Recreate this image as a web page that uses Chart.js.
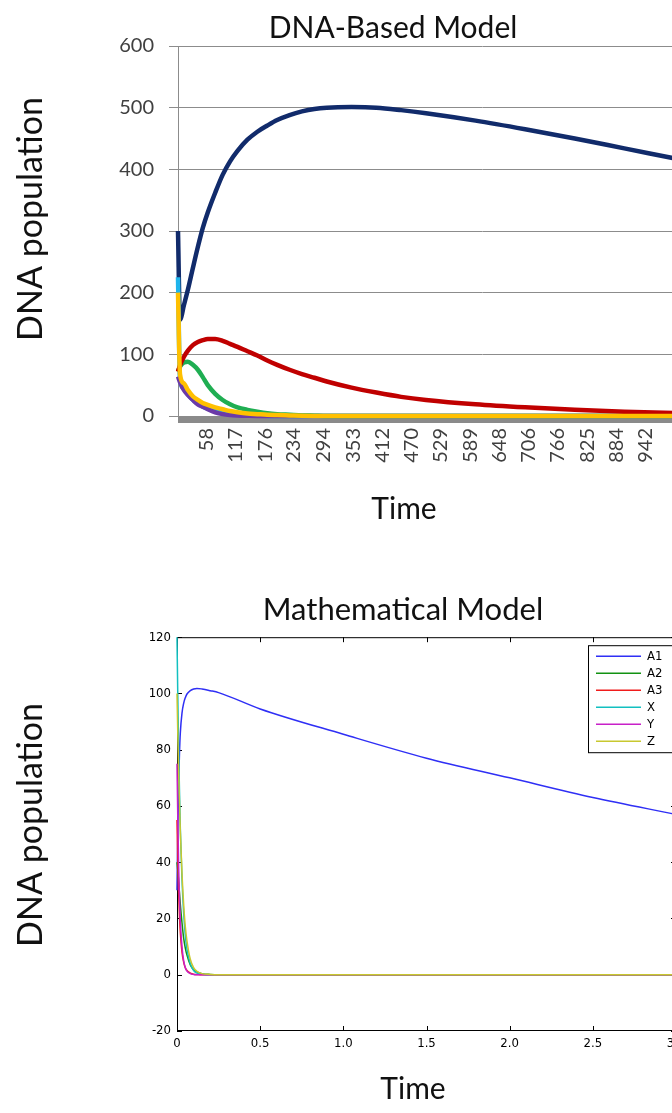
<!DOCTYPE html>
<html lang="en">
<head>
<meta charset="UTF-8">
<title>DNA-Based Model / Mathematical Model</title>
<script src="https://cdn.jsdelivr.net/npm/chart.js"></script>
<style>
  html, body { margin: 0; padding: 0; background: #fff; overflow: hidden; }
  .wrap { position: relative; width: 672px; height: 1113px; overflow: hidden; }
  #dnaChart { position: absolute; left: 0; top: 0; }
  #mathChart { position: absolute; left: 0; top: 580px; }
</style>
</head>
<body>
<div class="wrap">
  <canvas id="dnaChart" width="786" height="560"></canvas>
  <canvas id="mathChart" width="806" height="533"></canvas>
</div>
<script>
// DNA-based model
const dnaTime = [0, 4, 12, 20, 30, 40, 50, 60, 75, 90, 105, 120, 140, 160, 180, 200, 225, 250, 275, 300, 350, 400, 450, 500, 600, 700, 800, 900, 1000, 1100];
const dnaA1 = [300, 156, 180, 205, 240, 274, 305, 330, 362, 391, 413, 430, 448, 461, 471, 480, 488, 494, 498, 500, 501, 500, 496, 491, 479, 465, 450, 434, 418, 402];
const dnaA2 = [72, 80, 87, 88, 83, 75, 63, 50, 36, 26, 19, 14, 10, 7, 4.5, 3, 2, 1, 0.5, 0, 0, 0, 0, 0, 0, 0, 0, 0, 0, 0];
const dnaA3 = [72, 82, 96, 106, 115, 120, 123, 125, 125, 122, 117, 112, 105, 98, 90, 83, 75, 68, 62, 56, 46, 38, 31, 26, 19, 14, 10, 7, 5, 4];
const dnaX = [225, 60, 45, 35, 26, 20, 15, 12, 8, 5, 3, 2, 1, 0.5, 0.2, 0, 0, 0, 0, 0, 0, 0, 0, 0, 0, 0, 0, 0, 0, 0];
const dnaY = [64, 55, 42, 34, 26, 19, 15, 11, 6, 3, 1.5, 0.8, 0.3, 0, 0, 0, 0, 0, 0, 0, 0, 0, 0, 0, 0, 0, 0, 0, 0, 0];
const dnaZ = [200, 68, 53, 42, 32, 26, 21, 18, 14, 11, 8, 6, 4, 3, 2, 1.5, 1, 0.5, 0.2, 0, 0, 0, 0, 0, 0, 0, 0, 0, 0, 0];
const dnaBaseTime = [0, 1100];
const dnaBase = [-5.5, -5.5];
const dnaTickLabels = [58, 117, 176, 234, 294, 353, 412, 470, 529, 589, 648, 706, 766, 825, 884, 942];

// Mathematical model (Matlab plot)
const mathTime = [0, 0.005, 0.01, 0.015, 0.02, 0.03, 0.04, 0.05, 0.06, 0.08, 0.1, 0.12, 0.15, 0.2, 0.25, 0.5, 1, 1.5, 2, 2.5, 3];
const mathA1 = [30, 52, 68, 79, 86, 93, 96.5, 98.5, 99.8, 101, 101.6, 101.8, 101.6, 101, 100.3, 94.5, 85.5, 77, 70, 63, 57];
const mathA2 = [40, 37, 33, 29, 25, 18.5, 13, 9.5, 7, 3.5, 1.8, 1, 0.4, 0.1, 0, 0, 0, 0, 0, 0, 0];
const mathA3 = [55, 40, 29, 21, 15, 8, 4.5, 2.5, 1.5, 0.6, 0.2, 0.1, 0, 0, 0, 0, 0, 0, 0, 0, 0];
const mathX = [120, 98, 80, 65, 52, 34, 22, 14, 9, 4, 1.5, 0.6, 0.2, 0, 0, 0, 0, 0, 0, 0, 0];
const mathY = [75, 55, 38, 27, 19, 10, 5, 2.5, 1.3, 0.4, 0.1, 0, 0, 0, 0, 0, 0, 0, 0, 0, 0];
const mathZ = [100, 85, 72, 61, 51, 36, 25, 17, 12, 5.5, 2.5, 1.2, 0.4, 0.1, 0, 0, 0, 0, 0, 0, 0];
const mathLabels = ['A1', 'A2', 'A3', 'X', 'Y', 'Z'];
const mathColors = ['#2f2ff5', '#129212', '#f01c1c', '#12c0c0', '#c820c8', '#c8c830'];

const excelFont = 'Lato';
const matlabFont = '"Liberation Sans Narrow", "DejaVu Sans Condensed", sans-serif';

function pts(times, values) {
  return times.map((t, i) => ({ x: t, y: values[i] }));
}

function dnaLine(values, color) {
  return {
    data: pts(dnaTime, values),
    borderColor: color,
    borderWidth: 4.5,
    pointRadius: 0,
    cubicInterpolationMode: 'monotone',
    clip: false
  };
}

// axis captions ("Time", "DNA population"), placed like in the original figure
const axisCaptions = {
  id: 'axisCaptions',
  afterDraw(chart, args, opts) {
    const { ctx } = chart;
    ctx.save();
    ctx.fillStyle = '#111';
    ctx.textAlign = 'center';
    ctx.textBaseline = 'middle';
    ctx.font = '30px ' + excelFont;
    ctx.fillText(opts.xText, opts.xPos[0], opts.xPos[1]);
    ctx.translate(opts.yPos[0], opts.yPos[1]);
    ctx.rotate(-Math.PI / 2);
    ctx.font = '34px ' + excelFont;
    ctx.fillText(opts.yText, 0, 0);
    ctx.restore();
  }
};

// first dataset is drawn on top
new Chart(document.getElementById('dnaChart'), {
  type: 'line',
  data: {
    datasets: [
      dnaLine(dnaZ, '#ffc000'),
      dnaLine(dnaA3, '#c00000'),
      dnaLine(dnaA2, '#1fae52'),
      dnaLine(dnaY, '#6b3aa8'),
      dnaLine(dnaX, '#1fb4ec'),
      dnaLine(dnaA1, '#112b6b'),
      {
        data: pts(dnaBaseTime, dnaBase),
        borderColor: '#8a8a8a',
        borderWidth: 7,
        pointRadius: 0,
        clip: false
      }
    ]
  },
  options: {
    responsive: false,
    animation: false,
    layout: { padding: 0 },
    plugins: {
      legend: { display: false },
      tooltip: { enabled: false },
      title: {
        display: true,
        text: 'DNA-Based Model',
        color: '#111',
        font: { family: excelFont, size: 30, weight: 'normal' },
        padding: { top: 10, bottom: 0 }
      },
      axisCaptions: { xText: 'Time', xPos: [404, 509], yText: 'DNA population', yPos: [31, 219] }
    },
    scales: {
      x: {
        type: 'linear',
        min: 0,
        max: 1226,
        afterBuildTicks: s => { s.ticks = dnaTickLabels.map(v => ({ value: v })); },
        afterFit: s => { s.height = 144; },
        grid: { display: false, drawTicks: false },
        border: { display: false },
        ticks: {
          autoSkip: false,
          minRotation: 90,
          maxRotation: 90,
          padding: 12,
          color: '#404040',
          font: { family: excelFont, size: 20 },
          callback: v => String(v)
        }
      },
      y: {
        min: 0,
        max: 600,
        afterFit: s => { s.width = 178; },
        grid: { color: '#8c8c8c', tickLength: 9 },
        border: { color: '#8c8c8c' },
        ticks: {
          stepSize: 100,
          padding: 15,
          color: '#404040',
          font: { family: excelFont, size: 20 }
        }
      }
    }
  },
  plugins: [axisCaptions]
});

// Matlab-style box, inward ticks and legend
const matlabFrame = {
  id: 'matlabFrame',
  beforeDatasetsDraw(chart) {
    const { ctx, chartArea: a, scales: { x, y } } = chart;
    ctx.save();
    ctx.strokeStyle = '#000';
    ctx.lineWidth = 1;
    ctx.beginPath();
    ctx.rect(a.left + 0.5, a.top + 0.5, a.right - a.left - 1, a.bottom - a.top - 1);
    x.ticks.forEach(t => {
      const px = Math.round(x.getPixelForValue(t.value)) + 0.5;
      ctx.moveTo(px, a.bottom); ctx.lineTo(px, a.bottom - 5);
      ctx.moveTo(px, a.top); ctx.lineTo(px, a.top + 5);
    });
    y.ticks.forEach(t => {
      const py = Math.round(y.getPixelForValue(t.value)) + 0.5;
      ctx.moveTo(a.left, py); ctx.lineTo(a.left + 5, py);
      ctx.moveTo(a.right, py); ctx.lineTo(a.right - 5, py);
    });
    ctx.stroke();
    ctx.restore();
  },
  afterDatasetsDraw(chart) {
    const { ctx, chartArea: a } = chart;
    const sets = chart.data.datasets;
    const w = 84, rowH = 17;
    const h = sets.length * rowH + 5;
    const lx = a.right - 4 - w, ly = a.top + 8;
    ctx.save();
    ctx.fillStyle = '#fff';
    ctx.fillRect(lx, ly, w, h);
    ctx.strokeStyle = '#000';
    ctx.lineWidth = 1;
    ctx.strokeRect(lx + 0.5, ly + 0.5, w, h);
    ctx.font = '13px ' + matlabFont;
    ctx.textBaseline = 'middle';
    sets.forEach((ds, i) => {
      const ry = ly + 11 + i * rowH;
      ctx.strokeStyle = ds.borderColor;
      ctx.lineWidth = 1.5;
      ctx.beginPath();
      ctx.moveTo(lx + 8, ry);
      ctx.lineTo(lx + 53, ry);
      ctx.stroke();
      ctx.fillStyle = '#000';
      ctx.fillText(ds.label, lx + 59, ry);
    });
    ctx.restore();
  }
};

const mathSeries = [mathA1, mathA2, mathA3, mathX, mathY, mathZ];

new Chart(document.getElementById('mathChart'), {
  type: 'line',
  data: {
    datasets: mathSeries.map((vals, i) => ({
      label: mathLabels[i],
      data: pts(mathTime, vals),
      borderColor: mathColors[i],
      borderWidth: 1.5,
      pointRadius: 0,
      cubicInterpolationMode: 'monotone',
      order: mathSeries.length - i,   // later series on top, like Matlab
      clip: false
    }))
  },
  options: {
    responsive: false,
    animation: false,
    layout: { padding: 0 },
    plugins: {
      legend: { display: false },
      tooltip: { enabled: false },
      title: {
        display: true,
        text: 'Mathematical Model',
        color: '#111',
        font: { family: excelFont, size: 31, weight: 'normal' },
        padding: { top: 11, bottom: 9 }
      },
      axisCaptions: { xText: 'Time', xPos: [413, 509], yText: 'DNA population', yPos: [31, 245] }
    },
    scales: {
      x: {
        type: 'linear',
        min: 0,
        max: 3,
        afterFit: s => { s.height = 82; },
        grid: { display: false, drawTicks: false },
        border: { display: false },
        ticks: {
          stepSize: 0.5,
          padding: 5,
          maxRotation: 0,
          color: '#000',
          font: { family: matlabFont, size: 13 }
        }
      },
      y: {
        min: -20,
        max: 120,
        afterFit: s => { s.width = 177; },
        grid: { display: false, drawTicks: false },
        border: { display: false },
        ticks: {
          stepSize: 20,
          padding: 6,
          color: '#000',
          font: { family: matlabFont, size: 13 }
        }
      },
      yRight: {
        position: 'right',
        afterFit: s => { s.width = 130; },
        grid: { display: false, drawTicks: false },
        border: { display: false },
        ticks: { display: false }
      }
    }
  },
  plugins: [matlabFrame, axisCaptions]
});
</script>
</body>
</html>
